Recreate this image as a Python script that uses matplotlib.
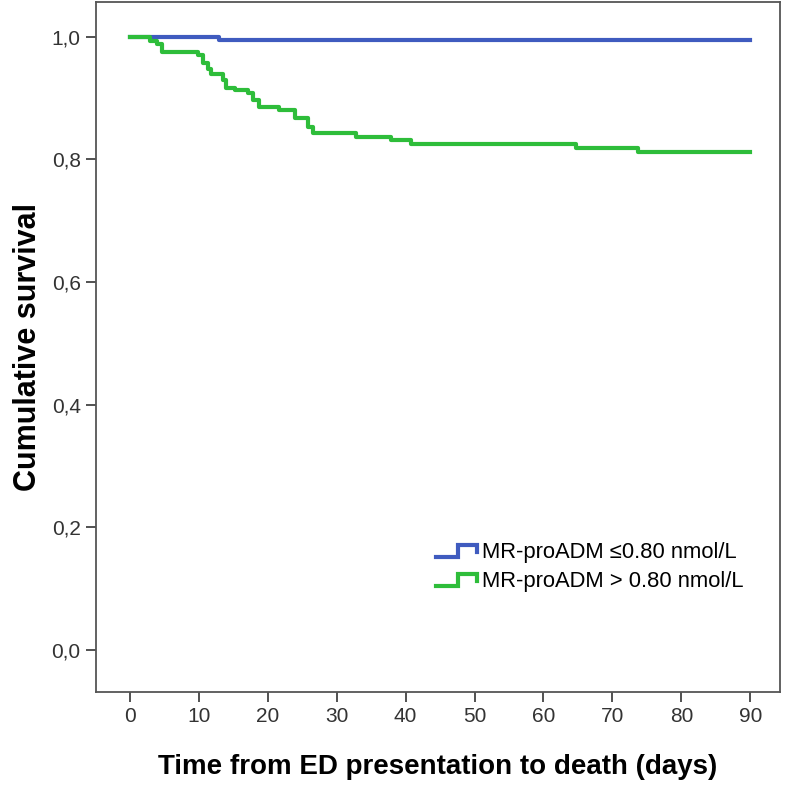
import matplotlib
matplotlib.use("Agg")
import matplotlib.pyplot as plt
from matplotlib.legend_handler import HandlerBase
from matplotlib.lines import Line2D

# Kaplan-Meier step data (days, cumulative survival)
low_days = [0, 13.0, 90]
low_surv = [1.0, 0.995, 0.995]

high_days = [0, 2.9, 3.9, 4.6, 9.9, 10.6, 11.4, 11.8, 13.5, 14.0, 15.2, 17.1,
             17.9, 18.8, 21.7, 23.9, 25.8, 26.6, 32.8, 37.9, 40.8, 64.7, 73.7, 90]
high_surv = [1.0, 0.994, 0.989, 0.976, 0.970, 0.957, 0.948, 0.940, 0.929, 0.917,
             0.913, 0.908, 0.897, 0.886, 0.880, 0.867, 0.853, 0.843, 0.837, 0.831,
             0.825, 0.818, 0.812, 0.812]

group_labels = ["MR-proADM \u22640.80 nmol/L", "MR-proADM > 0.80 nmol/L"]
x_ticks = [0, 10, 20, 30, 40, 50, 60, 70, 80, 90]
y_ticks = [0.0, 0.2, 0.4, 0.6, 0.8, 1.0]

BLUE = "#3f5bbf"
GREEN = "#2ebd3a"


class StepHandler(HandlerBase):
    """Legend key drawn as a small step, like SPSS survival plots."""
    def create_artists(self, legend, orig_handle, xdescent, ydescent,
                       width, height, fontsize, trans):
        y0 = height * 0.1 - ydescent
        y1 = height * 0.85 - ydescent
        xs = [-xdescent, -xdescent + 0.55 * width, -xdescent + 0.55 * width,
              -xdescent + width, -xdescent + width]
        ys = [y0, y0, y1, y1, y0 + 0.3 * height]
        line = Line2D(xs, ys, color=orig_handle.get_color(),
                      linewidth=orig_handle.get_linewidth(),
                      solid_joinstyle="miter", transform=trans)
        return [line]


plt.rcParams['font.family'] = ['Liberation Sans', 'DejaVu Sans']

fig = plt.figure(figsize=(7.85, 7.91), dpi=100)
ax = fig.add_axes([0.1223, 0.1252, 0.8713, 0.8723])

l1, = ax.step(low_days, low_surv, where="post", color=BLUE, linewidth=3.0,
              label=group_labels[0])
l2, = ax.step(high_days, high_surv, where="post", color=GREEN, linewidth=3.0,
              label=group_labels[1])

ax.set_xlim(-4.9, 94.3)
ax.set_ylim(-0.069, 1.057)
ax.set_xticks(x_ticks)
ax.set_yticks(y_ticks)
ax.set_yticklabels([f"{v:.1f}".replace(".", ",") for v in y_ticks])
ax.tick_params(axis="both", direction="out", length=7, width=1.2,
               color="#333333", labelsize=15, labelcolor="#333333", pad=4)

for side in ax.spines.values():
    side.set_color("#555555")
    side.set_linewidth(1.3)

label_font = dict(family=['Liberation Sans Narrow', 'Liberation Sans', 'DejaVu Sans'],
                  fontweight="bold", color="black")
ax.set_xlabel("Time from ED presentation to death (days)", labelpad=20,
              fontsize=20, **label_font)
ax.set_ylabel("Cumulative survival", labelpad=6, fontsize=22, **label_font)

ax.legend(handles=[l1, l2], loc="lower right", bbox_to_anchor=(0.975, 0.116),
          frameon=False, fontsize=15.8, handlelength=1.9, handletextpad=0.2,
          labelspacing=0.35, handler_map={Line2D: StepHandler()})

fig.savefig("out.png", dpi=100)
